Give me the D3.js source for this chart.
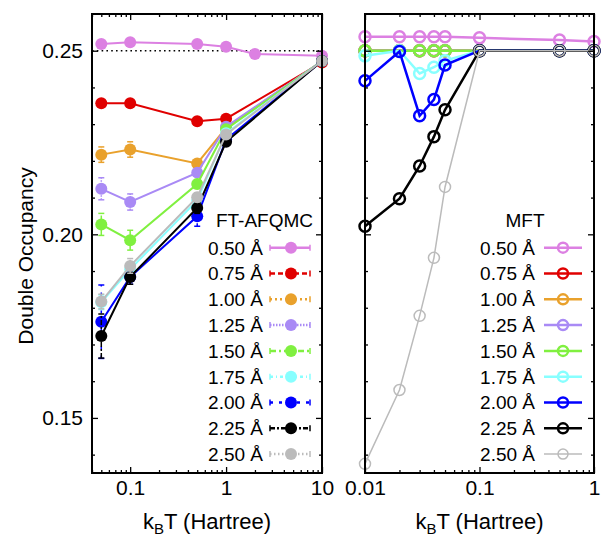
<!DOCTYPE html>
<html><head><meta charset="utf-8">
<script src="https://cdn.jsdelivr.net/npm/d3@7"></script>
<style>
body{margin:0;background:#fff}
text{font-family:"Liberation Sans",Arial,Helvetica,sans-serif;fill:#000}
</style>
</head><body>
<svg id="c" width="602" height="538"></svg>
<script>
// ---------- data ----------
const labels = ["0.50 Å","0.75 Å","1.00 Å","1.25 Å","1.50 Å","1.75 Å","2.00 Å","2.25 Å","2.50 Å"];
const colors = ["#dc80e2","#e00000","#e9a12c","#a98af5","#80f040","#88ffff","#0000ff","#000000","#bbbbbb"];

// FT-AFQMC (left panel)
const qmcT050 = [0.05, 0.1, 0.5, 1, 2, 10];
const qmcT     = [0.05, 0.1, 0.5, 1, 10];
const qmc050 = [0.2518, 0.2523, 0.2518, 0.2511, 0.2491, 0.2486];
const qmc075 = [0.2357, 0.2357, 0.2308, 0.2315, 0.2468];
const qmc100 = [0.2217, 0.2231, 0.2193, 0.2290, 0.2472];
const qmc125 = [0.2124, 0.2088, 0.2168, 0.2293, 0.2472];
const qmc150 = [0.2027, 0.1984, 0.2137, 0.2286, 0.2472];
const qmc175 = [0.1815, 0.1905, 0.2092, 0.2275, 0.2472];
const qmc200 = [0.1762, 0.1884, 0.2049, 0.2258, 0.2472];
const qmc225 = [0.1723, 0.1884, 0.2072, 0.2252, 0.2472];
const qmc250 = [0.1817, 0.1914, 0.2101, 0.2272, 0.2472];
const err050 = [0.0005, 0.0005, 0.0005, 0.0005, 0.0005, 0];
const err075 = [0.0008, 0.0008, 0.0008, 0.0008, 0];
const err100 = [0.0021, 0.0021, 0.0010, 0.0008, 0];
const err125 = [0.0030, 0.0022, 0.0010, 0.0008, 0];
const err150 = [0.0030, 0.0027, 0.0012, 0.0008, 0];
const err175 = [0.0020, 0.0020, 0.0012, 0.0008, 0];
const err200 = [0.0100, 0.0020, 0.0027, 0.0008, 0];
const err225 = [0.0060, 0.0020, 0.0015, 0.0008, 0];
const err250 = [0.0020, 0.0020, 0.0012, 0.0008, 0];

// MFT (right panel)
const mftT = [0.01, 0.02, 0.03, 0.04, 0.05, 0.1, 0.5, 1];
const mft050 = [0.2538, 0.2538, 0.2538, 0.2538, 0.2538, 0.2535, 0.2529, 0.2525];
const mft075 = [0.25, 0.25, 0.25, 0.25, 0.25, 0.25, 0.25, 0.25];
const mft100 = [0.25, 0.25, 0.25, 0.25, 0.25, 0.25, 0.25, 0.25];
const mft125 = [0.25, 0.25, 0.25, 0.25, 0.25, 0.25, 0.25, 0.25];
const mft150 = [0.25, 0.25, 0.25, 0.25, 0.25, 0.25, 0.25, 0.25];
const mft175 = [0.2486, 0.2500, 0.2438, 0.2455, 0.2473, 0.25, 0.25, 0.25];
const mft200 = [0.2418, 0.2498, 0.2323, 0.2367, 0.2461, 0.25, 0.25, 0.25];
const mft225 = [0.2022, 0.2097, 0.2186, 0.2266, 0.2339, 0.25, 0.25, 0.25];
const mft250 = [0.1375, 0.1576, 0.1778, 0.1936, 0.2129, 0.25, 0.25, 0.25];

const yTicksMajor = [0.15, 0.20, 0.25];
const yTicksMinor = [0.14, 0.16, 0.17, 0.18, 0.19, 0.21, 0.22, 0.23, 0.24];
const leftXMajor = [0.1, 1, 10];
const leftXMinor = [0.04,0.05,0.06,0.07,0.08,0.09,0.2,0.3,0.4,0.5,0.6,0.7,0.8,0.9,2,3,4,5,6,7,8,9];
const rightXMajor = [0.01, 0.1, 1];
const rightXMinor = [0.02,0.03,0.04,0.05,0.06,0.07,0.08,0.09,0.2,0.3,0.4,0.5,0.6,0.7,0.8,0.9];
const halfFilling = 0.25;

// ---------- styles ----------
const dashes = [null, "5,3", "2,3", "1.5,1.5", "6,3,2,3", "3,3,1,3", "3,6", "5,2,2,2", "1.5,2.5"];

const qmcSeries = [
  {t: qmcT050, v: qmc050, e: err050},
  {t: qmcT, v: qmc075, e: err075},
  {t: qmcT, v: qmc100, e: err100},
  {t: qmcT, v: qmc125, e: err125},
  {t: qmcT, v: qmc150, e: err150},
  {t: qmcT, v: qmc175, e: err175},
  {t: qmcT, v: qmc200, e: err200},
  {t: qmcT, v: qmc225, e: err225},
  {t: qmcT, v: qmc250, e: err250},
];
const mftSeries = [mft050, mft075, mft100, mft125, mft150, mft175, mft200, mft225, mft250];

const svg = d3.select("#c");
const yTop = 14, yBottom = 473;
const y = d3.scaleLinear().domain([0.135, 0.26]).range([yBottom, yTop]);
const xL = d3.scaleLog().domain([0.04, 10]).range([92, 322]);
const xR = d3.scaleLog().domain([0.01, 1]).range([365, 594]);

function ticks(x, major, minor, showY, showX) {
  const [x0, x1] = x.range();
  const g = svg.append("g");
  const fmtX = d => (d >= 1 ? d3.format("d")(d) : String(d));
  const mk = (axis, tr) => {
    const a = g.append("g").attr("transform", tr).call(axis);
    a.select(".domain").remove();
    a.selectAll("line").attr("stroke", "#000").attr("stroke-width", 1.3);
    return a;
  };
  const bMaj = mk(d3.axisBottom(x).tickValues(major).tickSize(-6).tickPadding(7)
      .tickFormat(showX ? fmtX : ""), `translate(0,${yBottom})`);
  bMaj.selectAll("text").attr("font-size", 21).attr("font-family", "Liberation Sans, Arial, sans-serif");
  mk(d3.axisBottom(x).tickValues(minor).tickSize(-3).tickFormat(""), `translate(0,${yBottom})`);
  mk(d3.axisTop(x).tickValues(major).tickSize(-6).tickFormat(""), `translate(0,${yTop})`);
  mk(d3.axisTop(x).tickValues(minor).tickSize(-3).tickFormat(""), `translate(0,${yTop})`);
  const lMaj = mk(d3.axisLeft(y).tickValues(yTicksMajor).tickSize(-6).tickPadding(9)
      .tickFormat(showY ? d3.format(".2f") : ""), `translate(${x0},0)`);
  lMaj.selectAll("text").attr("font-size", 21).attr("font-family", "Liberation Sans, Arial, sans-serif");
  mk(d3.axisLeft(y).tickValues(yTicksMinor).tickSize(-3).tickFormat(""), `translate(${x0},0)`);
  mk(d3.axisRight(y).tickValues(yTicksMajor).tickSize(-6).tickFormat(""), `translate(${x1},0)`);
  mk(d3.axisRight(y).tickValues(yTicksMinor).tickSize(-3).tickFormat(""), `translate(${x1},0)`);
}

// ---------- left panel ----------
const gL = svg.append("g");
gL.append("line")
  .attr("x1", xL.range()[0]).attr("x2", xL.range()[1])
  .attr("y1", y(halfFilling)).attr("y2", y(halfFilling))
  .attr("stroke", "#000").attr("stroke-width", 1.6).attr("stroke-dasharray", "1.6,3.2");

qmcSeries.forEach((s, i) => {
  const pts = s.t.map((t, j) => ({t, v: s.v[j], e: s.e[j]}));
  const g = gL.append("g");
  g.append("path").datum(pts)
    .attr("d", d3.line().x(d => xL(d.t)).y(d => y(d.v)))
    .attr("fill", "none").attr("stroke", colors[i]).attr("stroke-width", 2);
  const eb = g.selectAll(".eb").data(pts.filter(d => d.e > 0)).enter().append("g")
    .attr("stroke", colors[i]).attr("stroke-width", 1.5);
  eb.append("line").attr("x1", d => xL(d.t)).attr("x2", d => xL(d.t))
    .attr("y1", d => y(d.v - d.e)).attr("y2", d => y(d.v + d.e))
    .attr("stroke-dasharray", dashes[i]);
  eb.append("line").attr("x1", d => xL(d.t) - 3).attr("x2", d => xL(d.t) + 3)
    .attr("y1", d => y(d.v - d.e)).attr("y2", d => y(d.v - d.e));
  eb.append("line").attr("x1", d => xL(d.t) - 3).attr("x2", d => xL(d.t) + 3)
    .attr("y1", d => y(d.v + d.e)).attr("y2", d => y(d.v + d.e));
  g.selectAll("circle").data(pts).enter().append("circle")
    .attr("cx", d => xL(d.t)).attr("cy", d => y(d.v)).attr("r", 6)
    .attr("fill", colors[i]);
});

// ---------- right panel ----------
const gR = svg.append("g");
mftSeries.forEach((vals, i) => {
  const pts = mftT.map((t, j) => ({t, v: vals[j]}));
  const lw = i === 8 ? 1.5 : 2.5;
  const g = gR.append("g");
  g.append("path").datum(pts)
    .attr("d", d3.line().x(d => xR(d.t)).y(d => y(d.v)))
    .attr("fill", "none").attr("stroke", colors[i]).attr("stroke-width", lw);
  g.selectAll("circle").data(pts).enter().append("circle")
    .attr("cx", d => xR(d.t)).attr("cy", d => y(d.v)).attr("r", 5.5)
    .attr("fill", "none").attr("stroke", colors[i]).attr("stroke-width", lw);
});

// ---------- frames & ticks ----------
[xL, xR].forEach(x => {
  svg.append("rect").attr("x", x.range()[0]).attr("y", yTop)
    .attr("width", x.range()[1] - x.range()[0]).attr("height", yBottom - yTop)
    .attr("fill", "none").attr("stroke", "#000").attr("stroke-width", 2);
});
ticks(xL, leftXMajor, leftXMinor, true, true);
ticks(xR, rightXMajor, rightXMinor, false, true);

// ---------- titles ----------
svg.append("text").attr("transform", "translate(33,256) rotate(-90)")
  .attr("text-anchor", "middle").attr("font-size", 21).text("Double Occupancy");
[xL, xR].forEach(x => {
  const cx = (x.range()[0] + x.range()[1]) / 2;
  const t = svg.append("text").attr("x", cx).attr("y", 529)
    .attr("text-anchor", "middle").attr("font-size", 22);
  t.append("tspan").text("k");
  t.append("tspan").attr("font-size", 15).attr("dy", 5).text("B");
  t.append("tspan").attr("dy", -5).text("T (Hartree)");
});

// ---------- legends ----------
const legY0 = 247.7, legDy = 25.8;
svg.append("text").attr("x", 313).attr("y", 227).attr("text-anchor", "end")
  .attr("font-size", 19).text("FT-AFQMC");
svg.append("text").attr("x", 525).attr("y", 227).attr("text-anchor", "middle")
  .attr("font-size", 19).text("MFT");
labels.forEach((lab, i) => {
  const yy = legY0 + i * legDy;
  svg.append("text").attr("x", 263).attr("y", yy).attr("dy", "0.36em")
    .attr("text-anchor", "end").attr("font-size", 19).text(lab);
  const gl = svg.append("g").attr("stroke", colors[i]).attr("stroke-width", 2.5);
  gl.append("line").attr("x1", 270).attr("x2", 310).attr("y1", yy).attr("y2", yy)
    .attr("stroke-dasharray", dashes[i]);
  gl.append("line").attr("x1", 270).attr("x2", 270).attr("y1", yy - 3).attr("y2", yy + 3).attr("stroke-width", 1.5);
  gl.append("line").attr("x1", 310).attr("x2", 310).attr("y1", yy - 3).attr("y2", yy + 3).attr("stroke-width", 1.5);
  svg.append("circle").attr("cx", 291).attr("cy", yy).attr("r", 6).attr("fill", colors[i]);
  svg.append("text").attr("x", 535).attr("y", yy).attr("dy", "0.36em")
    .attr("text-anchor", "end").attr("font-size", 19).text(lab);
  const lw = i === 8 ? 1.5 : 2.5;
  svg.append("line").attr("x1", 544).attr("x2", 582).attr("y1", yy).attr("y2", yy)
    .attr("stroke", colors[i]).attr("stroke-width", lw);
  svg.append("circle").attr("cx", 563).attr("cy", yy).attr("r", 5)
    .attr("fill", "none").attr("stroke", colors[i]).attr("stroke-width", lw);
});
</script>
</body></html>
